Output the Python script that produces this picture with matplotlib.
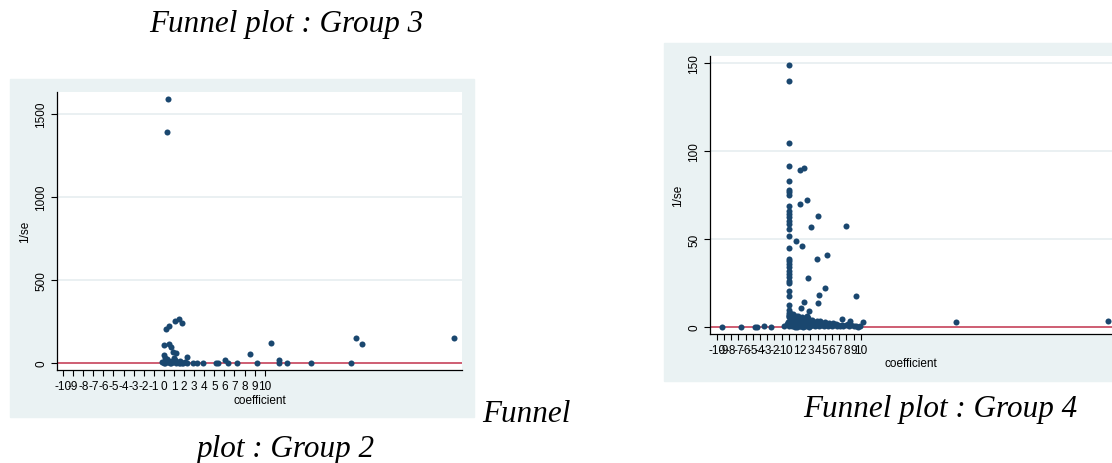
import matplotlib.pyplot as plt
from matplotlib.patches import Rectangle

# funnel plot data: coefficient vs 1/se
g3_coef = [0.37, 0.27, 0.2, 0.5, 1.09, 1.52, 1.82, 0.03, 0.46, 0.66, 0.93, 1.16,
           0.0, 0.13, 2.28, -0.2, 0.1, 0.3, 0.45, 0.6, 0.8, 0.9, 1.0, 1.15, 1.3,
           1.45, 1.6, 1.75, 1.9, 2.1, 2.3, 0.0, 0.5, 0.7, 1.2, 1.6,
           2.9, 3.3, 3.9, 5.16, 5.36, 6.02, 6.38, 7.27, 8.5, 9.2, 10.58,
           11.44, 11.44, 12.2, 14.55, 18.58, 19.07, 19.67, 28.76]
g3_inv_se = [1590, 1390, 205, 223, 255, 265, 243, 108, 114, 98, 64, 60,
             48, 32, 36, 8, 3, 22, 5, 2, 12, 4, 28, 18, 6,
             2, 10, 3, 1, 4, 1, 1, 15, 1, 2, 1,
             0, 0, 2, 0, 0, 18, 0, 0, 56, 0, 122,
             18, 0, 0, 0, 0, 151, 113, 151]

g4_coef = [0, 0, 0, 0, 0, 0, 0, 0, 0, 0, 0, 0, 0, 0, 0, 0, 0, 0, 0, 0,
           0, 0, 0, 0, 0, 0, 0, 0, 0, 0,
           1.56, 2.13, 1.56, 2.49, 4.1, 3.04, 7.94, 1.0, 1.88, 3.96, 5.26,
           2.67, 5.03, 4.24, 4.01, 9.29, 2.11, 1.74, 2.81, 7.34, 8.5, 10.26,
           -9.3, -6.64, -4.7, -4.4, -3.44, -2.5, 23.3, 44.3,
           -0.6, -0.3, -0.1, 0.1, 0.2, 0.3, 0.4, 0.5, 0.6, 0.7, 0.8, 0.9, 1.0,
           1.1, 1.2, 1.3, 1.4, 1.5, 1.6, 1.7, 1.8, 1.9, 2.0, 2.1, 2.2, 2.3,
           2.4, 2.5, 2.6, 2.7, 2.8, 2.9, 3.0, 3.1, 3.2, 3.3, 3.4, 3.5, 3.6,
           3.7, 3.8, 3.9, 4.0, 4.1, 4.2, 4.3, 4.4, 4.5, 4.6, 4.8, 4.9, 5.0,
           5.1, 5.3, 5.5, 5.6, 5.8, 6.0, 6.1, 6.3, 6.5, 6.7, 6.9, 7.1, 7.4,
           7.6, 7.9, 8.2, 8.4, 8.7, 9.0, 9.3, 9.6, 9.9,
           0.0, 0.2, 0.4, 0.6, 0.8, 1.0, 1.2, 1.4, 1.6, 1.8, 2.0, 2.2, 2.4,
           2.6, 2.8, 0.1, 0.3, 0.5, 0.7, 0.9, 1.1, 1.3, 1.5, 1.7, 1.9, 2.1,
           2.3, 2.5, 2.7, 0.0, 0.0, 0.0]
g4_inv_se = [149.3, 140.1, 104.9, 91.8, 83.2, 77.9, 76.6, 75.3, 68.7, 66.2,
             64.3, 62.4, 60.5, 58.6, 55.7, 51.6, 44.9, 38.7, 37.4, 35.8,
             33.9, 32.0, 30.2, 28.3, 26.4, 25.0, 20.7, 17.4, 12.5, 9.8,
             89.3, 90.6, 70.0, 72.4, 63.0, 56.7, 57.6, 48.7, 45.9, 38.7, 41.1,
             27.7, 22.2, 18.4, 13.7, 17.6, 14.4, 10.6, 8.9, 4.4, 3.6, 2.7,
             0.2, 0.2, 0.2, 0.2, 0.3, 0.2, 3.0, 3.6,
             0.8, 1.5, 3.0, 5.5, 7.8, 6.9, 4.2, 2.1, 7.2, 5.8, 3.5, 1.2, 6.5,
             4.8, 2.9, 6.1, 0.9, 5.2, 3.8, 1.9, 5.6, 4.4, 2.6, 0.7, 3.3, 5.0,
             1.6, 4.1, 6.3, 2.2, 3.7, 0.5, 2.9, 1.4, 4.0, 2.0, 0.9, 3.1, 1.8,
             0.4, 2.5, 3.6, 1.1, 2.8, 0.6, 1.9, 3.2, 0.9, 2.3, 1.4, 0.3, 2.6,
             1.0, 1.8, 0.5, 2.4, 1.2, 0.4, 2.0, 0.9, 1.5, 0.3, 1.1, 0.6, 1.3,
             0.4, 0.9, 1.6, 0.5, 1.2, 0.3, 0.8, 0.2, 0.5,
             0.4, 1.0, 0.3, 1.1, 0.2, 0.6, 0.1, 2.4, 0.3, 0.8, 0.2, 1.2, 0.4,
             0.9, 0.2, 2.3, 3.1, 4.9, 0.5, 2.7, 3.4, 1.6, 0.4, 4.7, 1.3, 3.9,
             0.9, 2.8, 5.1, 6.2, 8.2, 7.0]

coef_ticks = list(range(-10, 11))
g3_yticks = [0, 500, 1000, 1500]
g4_yticks = [0, 50, 100, 150]

W, H = 1112, 464
navy = "#1a476f"
paneBg = "#eaf2f3"
gridCol = "#e6eef0"
redLine = "#c8364f"

plt.rcParams["font.family"] = ["Liberation Sans", "DejaVu Sans"]
plt.rcParams["axes.unicode_minus"] = False


def pxBox(x0, y0, x1, y1):
    return [x0 / W, 1 - y1 / H, (x1 - x0) / W, (y1 - y0) / H]


def drawPanel(fig, bgBox, axBox, xlim, ylim, yticks, xs, ys, tickPad, labPad):
    fig.patches.append(Rectangle((bgBox[0], bgBox[1]), bgBox[2], bgBox[3],
                                 transform=fig.transFigure, color=paneBg,
                                 zorder=-5))
    ax = fig.add_axes(axBox)
    ax.set_zorder(1)
    ax.set_facecolor("white")
    ax.set_xlim(xlim)
    ax.set_ylim(ylim)
    ax.set_xticks(coef_ticks)
    ax.set_yticks(yticks)
    for side in ("top", "right"):
        ax.spines[side].set_visible(False)
    ax.spines["left"].set_linewidth(0.9)
    ax.spines["bottom"].set_linewidth(0.9)
    ax.yaxis.grid(True, color=gridCol, linewidth=1.2)
    ax.set_axisbelow(True)
    ax.tick_params(axis="both", direction="out", length=4, width=0.8,
                   labelsize=8.5)
    ax.tick_params(axis="x", pad=tickPad)
    ax.tick_params(axis="y", pad=3)
    plt.setp(ax.get_yticklabels(), rotation=90, va="center")

    ax.axhline(0, color=redLine, linewidth=1.1, zorder=1.5)
    ax.scatter(xs, ys, s=19, color=navy, linewidths=0, zorder=3)

    ax.set_xlabel("coefficient", fontsize=8.5, labelpad=labPad)
    ax.set_ylabel("1/se", fontsize=8.5, labelpad=3)
    return ax


fig = plt.figure(figsize=(W / 100, H / 100), dpi=100)

drawPanel(fig, pxBox(10, 80, 474, 418), pxBox(57, 93, 462, 371),
          (-10.6, 29.56), (-42, 1632), g3_yticks, g3_coef, g3_inv_se, 3.5, 1)
drawPanel(fig, pxBox(664, 44, 1112, 382), pxBox(710, 57, 1112, 335),
          (-10.94, 44.9), (-4.0, 154.2), g4_yticks, g4_coef, g4_inv_se, 3, 1)

cap = dict(family=["Liberation Serif", "DejaVu Serif"], style="italic",
           fontsize=22.4, va="baseline")
fig.text(286 / W, 1 - 32 / H, "Funnel plot : Group 3", ha="center", **cap)
fig.text(482 / W, 1 - 422 / H, "Funnel", ha="left", **cap)
fig.text(286 / W, 1 - 457 / H, "plot : Group 2", ha="center", **cap)
fig.text(940 / W, 1 - 417 / H, "Funnel plot : Group 4", ha="center", **cap)

fig.savefig("out.png", dpi=100)
